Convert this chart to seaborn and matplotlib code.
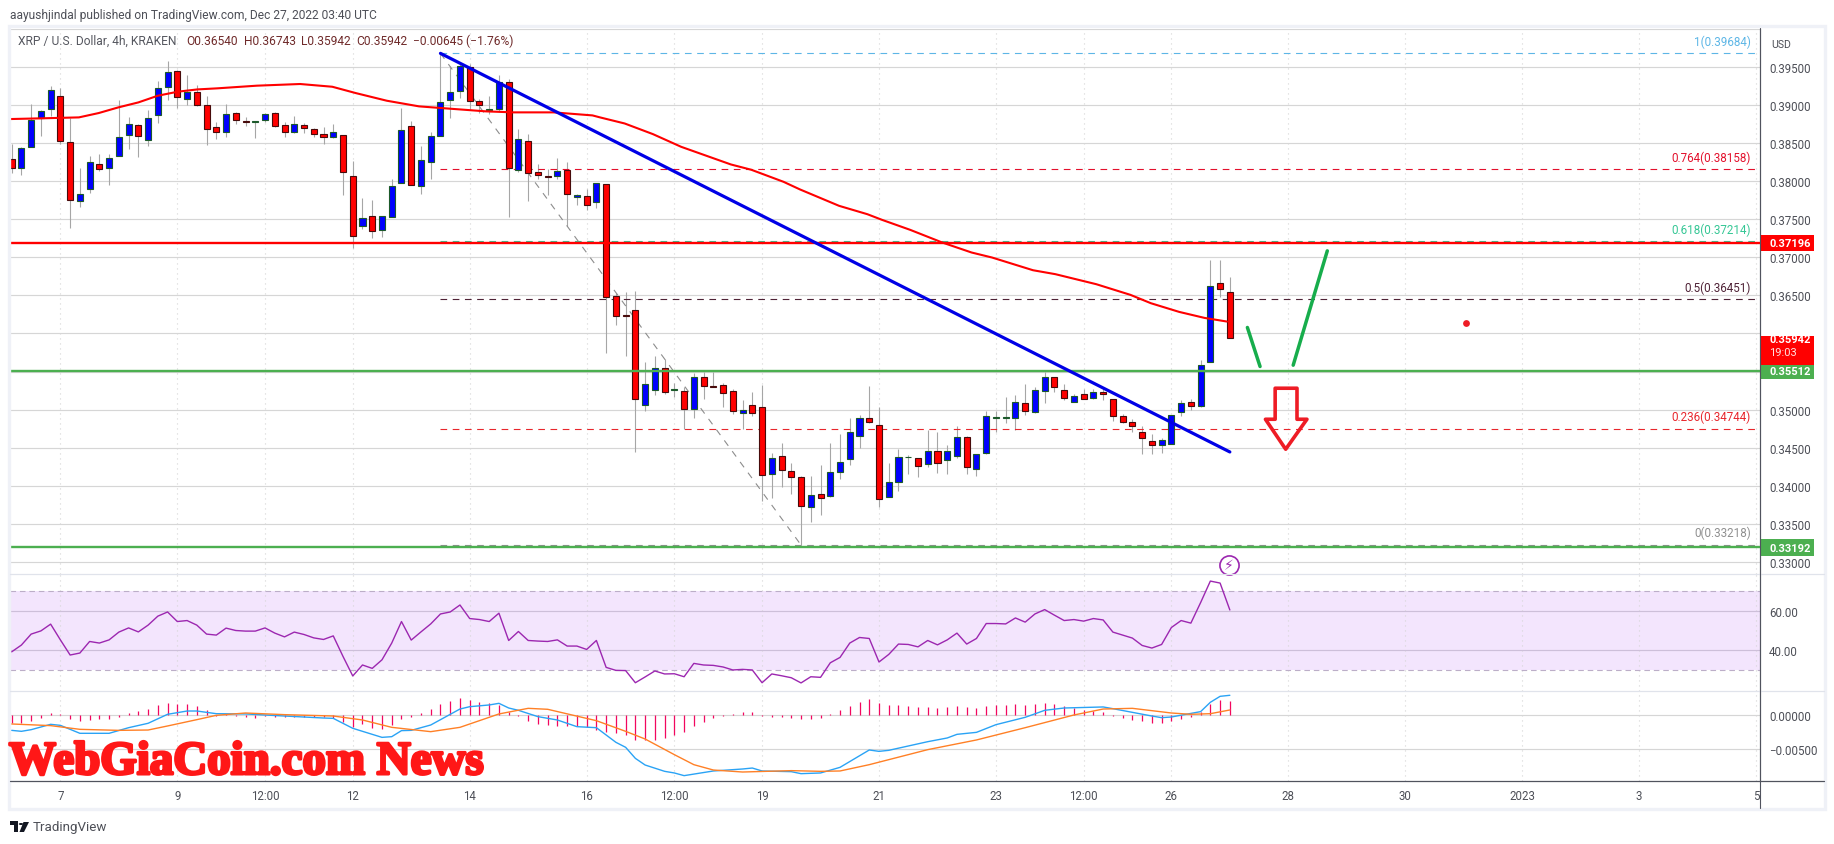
import matplotlib
matplotlib.use("Agg")
import matplotlib.pyplot as plt
import matplotlib.patheffects as pe
from matplotlib.lines import Line2D
from matplotlib.patches import Rectangle, Polygon, Circle
from matplotlib.transforms import blended_transform_factory
import numpy as np
import pandas as pd
import seaborn as sns

W, H = 1834, 845

# candles, one every 4h, index 0 = Dec 7 00:00
first_bar = -5
opens = [.38289,.3818,.38447,.38829,.38947,.39118,.38513,.37737,.37903,.38224,.38171,.38329,.38605,.38737,.38539,.38868,
         .39237,.39447,.39079,.39171,.39009,.3871,.38645,.38895,.38789,.38776,.38802,.38895,.38737,.38645,.38737,.38684,
         .38618,.38579,.38605,.38074,.37408,.37548,.37355,.37526,.37974,.38732,.37934,.3825,.38592,.39066,.39184,.395,
         .39052,.38943,.38947,.39311,.38153,.38526,.38123,.38066,.38066,.38145,.37789,.37811,.37723,.3796,.36487,.36241,
         .36303,.35062,.35263,.3554,.35259,.3525,.35013,.35434,.35307,.35316,.3525,.34948,.35053,.35027,.34158,.34395,
         .34198,.34119,.33724,.33895,.33869,.34184,.34355,.34658,.34882,.34803,.33856,.34053,.34373,.34356,.3429,.34461,
         .34342,.34395,.34645,.34224,.34434,.34895,.34882,.34895,.35092,.34961,.3525,.35434,.35263,.35105,.35198,.35158,
         .35224,.35132,.34921,.34842,.34711,.34592,.3454,.34553,.3497,.35105,.3504,.35626,.36658,.3654]
highs = [.38491,.3845,.39013,.38943,.3925,.39224,.38829,.38175,.38329,.38364,.38364,.3907,.38842,.38754,.38938,.39324,
         .39583,.39469,.39399,.39267,.39127,.38776,.39017,.38908,.38842,.38798,.38899,.38908,.38785,.38864,.38767,.38697,
         .38715,.3875,.38605,.38263,.37781,.37754,.37539,.38031,.38965,.38789,.38469,.38645,.39688,.39522,.39566,.39544,
         .39083,.39127,.39399,.39346,.38688,.38623,.38228,.38162,.38302,.3825,.37833,.37899,.37978,.37965,.36539,.3655,
         .3656,.35619,.35698,.35663,.35355,.3529,.35478,.35496,.35487,.35355,.35268,.35123,.35237,.3532,.34434,.34566,
         .34294,.34127,.34127,.34268,.34566,.34684,.34895,.34926,.35303,.35027,.34303,.34487,.34399,.34369,.34733,.34698,
         .34531,.34785,.34654,.34421,.34983,.34983,.35163,.35189,.35334,.3529,.35487,.35434,.35334,.35202,.35268,.35268,
         .35277,.35145,.34939,.34873,.34785,.34684,.34632,.34934,.35123,.35145,.35649,.36968,.36968,.36743]
lows = [.38105,.38088,.38447,.38601,.38864,.38491,.3739,.37667,.37846,.38136,.37956,.38329,.38425,.38324,.38469,.38767,
        .39074,.3896,.39004,.38987,.38482,.38557,.38588,.38754,.38732,.38566,.38776,.38715,.38579,.38636,.38636,.38579,
        .38491,.38566,.37824,.37118,.37373,.3725,.37272,.37526,.37974,.37947,.37838,.38031,.38592,.38838,.39092,.38952,
        .38895,.38886,.3893,.37535,.38118,.37737,.38031,.37824,.38031,.37417,.37688,.37627,.37649,.35746,.36114,.35698,
        .34443,.34983,.35189,.35202,.35171,.34741,.34882,.35136,.3529,.35031,.34939,.34741,.34917,.33803,.33834,.33987,
        .33886,.33215,.33522,.3361,.33856,.34084,.34272,.34491,.34829,.33724,.33856,.3393,.34149,.34119,.3425,.34162,
        .34149,.34364,.34149,.34127,.34421,.34706,.3482,.34733,.34926,.34952,.35084,.35224,.35127,.35101,.35136,.35136,
        .35123,.34851,.34829,.34711,.34417,.34417,.3443,.34553,.34921,.34996,.35035,.35622,.36474,.35942]
closes = [.3818,.38434,.38802,.3892,.39197,.38526,.3775,.37829,.38259,.38167,.38311,.38579,.38759,.38592,.38838,.39232,
          .39434,.39105,.39171,.39009,.38684,.38645,.38881,.38802,.38783,.38789,.38881,.38732,.38645,.3875,.38697,.38618,
          .38579,.38645,.38118,.37276,.37513,.37342,.37539,.37943,.38671,.37947,.38276,.38592,.39048,.39171,.39522,.39052,
          .39009,.38952,.39311,.38171,.38561,.38105,.38079,.38061,.38131,.37829,.37824,.37684,.37974,.36478,.36224,.36224,
          .35145,.35338,.3554,.35237,.35268,.35013,.35434,.35303,.35298,.35211,.34987,.35,.34956,.34145,.34369,.34211,
          .34119,.33737,.33882,.33842,.34184,.34316,.34711,.34895,.34838,.33829,.34053,.34382,.34382,.34263,.34461,.34303,
          .34448,.34645,.3425,.34421,.34921,.34908,.34908,.35105,.34987,.35263,.35434,.3529,.35154,.35184,.35145,.35224,
          .35198,.34921,.34842,.34777,.34619,.3454,.34605,.34934,.35092,.3504,.35579,.36618,.36579,.35942]

# 100 SMA
sma_bar = [-5.2,-2.15,1.9,3.93,5.96,8,10,12.05,14.07,16.1,20.16,24.6,27.9,30.3,33.5,36.8,39.6,43.7,46.5,50.6,54.6,55.4,57.9,
           60.8,63.7,68.8,70.9,74.2,75.9,79.9,82.8,84.3,87.2,90.5,93.5,95.6,99.8,102.1,106.3,109.8,111.9,114.8,117.4,119.7]
sma_val = [.3882,.38829,.38842,.38899,.38974,.39039,.39127,.3918,.3921,.39224,.39259,.39281,.39245,.39162,.39061,.38987,.3896,
           .38921,.38908,.38908,.38868,.38841,.38762,.38622,.38455,.38223,.38153,.37995,.37894,.37679,.37569,.37495,.37363,
           .37196,.37065,.36999,.36832,.3678,.36648,.36508,.36398,.36284,.36205,.36157]

rsi_val = [39.3,42.7,48.2,49.8,53.2,45.3,37.7,38.7,44.5,43.7,45.3,49.2,51.3,49.3,52.7,57.2,59.3,54.5,55,52.7,48.2,47.7,51.2,50,
           49.7,49.7,51.3,48.7,46.8,49.2,48,46.3,45.5,47.3,37,27.2,32.7,31,35.3,43.7,54.5,45.2,49.3,53.3,58.3,59.3,62.8,56,55.5,
           54.5,58.7,45,49.5,45,44.7,44.5,45.3,42.2,42.2,40.5,45,31.5,30,29.9,23.8,
           26.7,29.7,28.2,28.3,26.8,33.5,32.7,32.5,31.7,30.2,30.5,30.2,23.8,28.2,27.3,26.3,23.7,26.8,26.5,33.8,36.5,43.7,46.5,46,
           34.2,38,43.2,43,41.8,45,42.8,45.3,48.7,43.2,46,53.5,53.5,53.3,56.3,54.2,58.3,60.5,57.7,55,55.5,54.7,56,55.3,49.2,47.7,
           46.2,42.5,41.2,43,51.5,55,53.7,64,74.8,73.8,60.3]

hist_val = [-.00117,-.00117,-.00087,-.00039,.00029,.0001,-.00053,-.00087,-.00068,-.00063,-.00053,-.00024,.00024,.00053,.00087,
            .00146,.0017,.0016,.0016,.00131,.00073,-.0001,.0001,-.00019,-.00024,-.00039,-.0001,-.00024,-.00024,-.00034,-.00034,
            -.00034,-.00029,-.00044,-.00107,-.0018,-.00136,-.00194,-.00204,-.00146,-.00058,-.00024,.00029,.00087,.0016,.00204,
            .00243,.00219,.00185,.00175,.00146,.00049,-.0001,-.00087,-.00131,-.00146,-.00156,-.00156,-.00165,-.0018,-.00214,
            -.00243,-.00262,-.00287,-.0036,-.00364,-.00364,-.00335,-.00287,-.00243,-.00156,-.00097,-.00044,-.00015,.00019,.00049,
            .00049,-.0001,-.00024,-.00024,-.00039,-.00053,-.00053,-.00039,.00019,.00078,.00136,.00194,.00233,.0018,.00151,.00146,
            .00131,.00117,.00117,.00102,.00117,.00131,.00117,.00102,.00131,.00146,.00146,.0016,.00151,.0016,.00175,.0016,.00131,
            .00102,.00073,.00053,.00044,-.0001,-.00039,-.00073,-.00087,-.00112,-.00117,-.00087,-.00058,-.00029,.00044,.0016,
            .00214,.00204]

macd_bar = [-5,-4,-3,-1,0,2,5,7,9,11,13,14,16,19,23,27,28,30,33,34,35,36,38,41,42,44,45,46,47,49,51,53,55,57,58,59,60,62,63,64,
            67,70,71,72,75,76,78,80,83,84,85,89,91,92,94,96,99,101,103,107,108,112,113,114,117,118,119,120]
macd_val = [-.00224,-.00238,-.00214,-.00136,-.00151,-.00267,-.00267,-.00185,-.00121,.0001,.00058,.00058,.00019,.00015,-.00015,
            -.00044,-.00049,-.00194,-.00326,-.00316,-.00228,-.00224,-.00146,.00087,.00121,.00146,.0017,.00102,.00068,-.00024,
            -.00073,-.0017,-.00185,-.00398,-.00471,-.00632,-.00729,-.00821,-.00845,-.00884,-.00816,-.00787,-.00773,-.00816,
            -.00826,-.00855,-.00845,-.00763,-.0051,-.0053,-.00515,-.00389,-.00335,-.00282,-.00253,-.00141,-.00034,.00068,.00102,
            .00117,.00092,-.00015,-.00039,-.00029,.00049,.00185,.00272,.00287]
signal_bar = [-5,-1,2,6,9,11,14,16,19,23,28,31,34,38,41,45,48,50,55,58,60,63,65,67,70,75,78,80,83,89,94,99,104,107,110,114,116,118,120]
signal_val = [-.00131,-.00155,-.00209,-.00224,-.00219,-.0016,-.00068,-.00005,.00029,.00005,-.00015,-.00073,-.0018,-.00243,-.0018,
              .00015,.00097,.00083,-.00083,-.00238,-.0035,-.00578,-.00724,-.00802,-.00831,-.00811,-.00821,-.00816,-.00724,
              -.00505,-.00364,-.00185,0,.00087,.00097,.00029,.0001,.00019,.00073]

# x axis
date_bars = [0,12,21,30,42,54,63,72,84,96,105,114,126,138,150,162,174]
date_labels = ["7","9","12:00","12","14","16","12:00","19","21","23","12:00","26","28","30","2023","3","5"]

price_ticks = [.33,.335,.34,.345,.35,.355,.36,.365,.37,.375,.38,.385,.39,.395,.40]
price_labels = ["0.33000","0.33500","0.34000","0.34500","0.35000","","","0.36500","0.37000","0.37500","0.38000","0.38500","0.39000","0.39500",""]

# fib retracement
fib_levels = ["1","0.764","0.618","0.5","0.236","0"]
fib_prices = [.39684,.38158,.37214,.36451,.34744,.33218]
fib_colors = ["#5db6e6","#e3102c","#35c795","#4f2236","#e8262c","#8f8f8f"]

# hand drawn stuff on the chart
trend_bar, trend_val = [39,120], [.39684,.34442]
fib_diag_bar, fib_diag_val = [39,76], [.39684,.33218]
green1_bar, green1_val = [121.8,123.1], [.36079,.35566]
green2_bar, green2_val = [126.5,130.0], [.35583,.37087]
arrow_bar = [124.65,126.89,126.89,127.91,125.73,123.65,124.65]
arrow_val = [.3528,.3528,.34872,.34872,.34478,.34872,.34872]
dot_bar, dot_val = 144.2, .36139

sns.set_theme(style="white")
plt.rcParams["font.family"] = ["Roboto", "DejaVu Sans"]
text_gray = "#4d4f57"
axis_dark = "#50535e"
grid_col = "#d6d6d6"

fig = plt.figure(figsize=(W / 100, H / 100), dpi=100, facecolor="white")


def pane(y_top, y_bot):
    return fig.add_axes([10 / W, 1 - y_bot / H, 1750 / W, (y_bot - y_top) / H])


ax = pane(29.5, 575.3)
ax_rsi = pane(575.3, 691.7)
ax_macd = pane(691.7, 782)

for a in (ax, ax_rsi, ax_macd):
    a.set_facecolor("none")
    a.set_xlim(-5.17, 174.4)
    a.yaxis.tick_right()
    a.tick_params(length=0, labelsize=8.3, labelcolor=text_gray, pad=6.5)
    a.set_xticks(date_bars)
    a.grid(True, axis="x", color=grid_col, linestyle=(0, (1, 3.5)), linewidth=0.8)
    a.grid(True, axis="y", color=grid_col, linestyle="-", linewidth=0.85)
    a.set_axisbelow(True)
    for side in ("left", "top", "bottom"):
        a.spines[side].set_visible(False)
    a.spines["right"].set_color(axis_dark)
    a.spines["right"].set_linewidth(0.8)
    a.set_xlabel("")
    a.set_ylabel("")

df = pd.DataFrame({"open": opens, "high": highs, "low": lows, "close": closes})
df["bar"] = np.arange(len(df)) + first_bar
up = df["close"] >= df["open"]

# price pane
ax.set_ylim(.32833, .40011)
ax.set_yticks(price_ticks)
ax.set_yticklabels(price_labels)
ax.tick_params(labelbottom=False)

ax.vlines(df["bar"], df["low"], df["high"], color="#a6a6a6", linewidth=0.8, zorder=2)
ax.bar(df["bar"][up], (df["close"] - df["open"])[up], bottom=df["open"][up], width=0.62,
       color="#0000ff", edgecolor="#1c5a2a", linewidth=0.8, zorder=3)
ax.bar(df["bar"][~up], (df["open"] - df["close"])[~up], bottom=df["close"][~up], width=0.62,
       color="#ff0000", edgecolor="#470b0b", linewidth=0.8, zorder=3)

for price, col in zip(fib_prices, fib_colors):
    ax.plot([39, 174.4], [price, price], color=col, linewidth=0.8, linestyle=(0, (6, 5)), zorder=2.5)
ax.plot(fib_diag_bar, fib_diag_val, color="#8c8c8c", linewidth=0.8, linestyle=(0, (6, 6)), zorder=2.5)

ax.axhline(.37196, color="#ff0000", linewidth=1.7, zorder=4)
ax.axhline(.35512, color="#4caf50", linewidth=1.7, zorder=4)
ax.axhline(.33192, color="#4caf50", linewidth=1.7, zorder=4)

sns.lineplot(x=sma_bar, y=sma_val, ax=ax, color="#ff0000", linewidth=1.5, estimator=None, sort=False, zorder=5)
sns.lineplot(x=trend_bar, y=trend_val, ax=ax, color="#0000e6", linewidth=2.3, estimator=None, sort=False, zorder=6)
sns.lineplot(x=green1_bar, y=green1_val, ax=ax, color="#17ad4c", linewidth=2.5, estimator=None, sort=False, zorder=6,
             solid_capstyle="round")
sns.lineplot(x=green2_bar, y=green2_val, ax=ax, color="#17ad4c", linewidth=2.5, estimator=None, sort=False, zorder=6,
             solid_capstyle="round")
ax.add_patch(Polygon(np.column_stack([arrow_bar, arrow_val]), closed=True, fill=False, edgecolor="#ee1c25",
                     linewidth=2.6, joinstyle="round", zorder=6))
ax.scatter([dot_bar], [dot_val], s=24, color="#ee1c25", linewidth=0, zorder=6)
ax.set_xlabel("")
ax.set_ylabel("")

for lvl, price, col in zip(fib_levels, fib_prices, fib_colors):
    ax.annotate(f"{lvl}({price:.5f})", xy=(1 - 9 / 1750, price), xycoords=ax.get_yaxis_transform(),
                xytext=(0, 4), textcoords="offset points", ha="right", va="bottom", fontsize=8.4, color=col)

# lightning badge
ax.scatter([119.9], [.3295], s=190, facecolor="white", edgecolor="#9c27b0", linewidth=1.2, zorder=7, clip_on=False)
ax.text(119.9, .3295, "\u26a1", fontsize=10, color="#9c27b0", ha="center", va="center", zorder=8,
        family="DejaVu Sans")

# price tags on the axis
tags = [(.37196, "0.37196", "#ff0000"), (.35512, "0.35512", "#4caf50"), (.33192, "0.33192", "#4caf50")]
trans = blended_transform_factory(ax.transAxes, ax.transData)
for price, label, col in tags:
    ax.add_patch(Rectangle((1, price - 8.5 / 7600), 54 / 1750, 16.5 / 7600, transform=trans, clip_on=False,
                           facecolor=col, edgecolor="none", zorder=8))
    ax.text(1 + 9 / 1750, price - 0.8 / 7600, label, transform=trans, color="white", fontsize=8, fontweight="bold",
            va="center", ha="left", zorder=9)
ax.add_patch(Rectangle((1, .35581), 54 / 1750, 29 / 7600, transform=trans, clip_on=False,
                       facecolor="#ff0000", edgecolor="none", zorder=8))
ax.text(1 + 9 / 1750, .35942 - 1.3 / 7600, "0.35942", transform=trans, color="white", fontsize=8, fontweight="bold",
        va="center", ha="left", zorder=9)
ax.text(1 + 9 / 1750, .35942 - 14.3 / 7600, "19:03", transform=trans, color="#ffe0e0", fontsize=8, va="center",
        ha="left", zorder=9)

# RSI pane
ax_rsi.set_ylim(19.8, 78.2)
ax_rsi.set_yticks([40, 60])
ax_rsi.set_yticklabels(["40.00", "60.00"])
ax_rsi.tick_params(labelbottom=False)
ax_rsi.grid(True, axis="y", color="#cdbfd9", linestyle="-", linewidth=0.85)
ax_rsi.axhspan(30, 70, color="#f3e5fd", linewidth=0, zorder=0)
ax_rsi.axhline(70, color="#bcaec8", linewidth=0.8, linestyle=(0, (5, 3.5)))
ax_rsi.axhline(30, color="#bcaec8", linewidth=0.8, linestyle=(0, (5, 3.5)))
sns.lineplot(x=df["bar"].to_numpy(), y=rsi_val, ax=ax_rsi, color="#9c27b0", linewidth=1.0, estimator=None, sort=False,
             zorder=4)
ax_rsi.set_xlabel("")
ax_rsi.set_ylabel("")

# MACD pane
ax_macd.set_ylim(-.00962, .00354)
ax_macd.set_yticks([-.005, 0])
ax_macd.set_yticklabels(["\u22120.00500", "0.00000"])
ax_macd.vlines(df["bar"], 0, hist_val, color="#f2075f", linewidth=0.9, zorder=2)
sns.lineplot(x=macd_bar, y=macd_val, ax=ax_macd, color="#2aa3f5", linewidth=1.0, estimator=None, sort=False, zorder=3)
sns.lineplot(x=signal_bar, y=signal_val, ax=ax_macd, color="#ff8026", linewidth=1.0, estimator=None, sort=False, zorder=4)
ax_macd.set_xlabel("")
ax_macd.set_ylabel("")
ax_macd.set_xticklabels(date_labels)
ax_macd.tick_params(axis="x", pad=5.5, labelsize=8.3)

# frame and pane dividers, in pixels


def fig_line(xs, ys, col, lw=1.0):
    fig.add_artist(Line2D([x / W for x in xs], [1 - y / H for y in ys], color=col, linewidth=lw,
                          transform=fig.transFigure))


fig.add_artist(Rectangle((9 / W, 1 - 810 / H), 1816 / W, 783 / H, transform=fig.transFigure, fill=False,
                         edgecolor="#eff1f7", linewidth=2.4))
fig_line([10, 1824], [575.3, 575.3], "#e0e3eb", 0.9)
fig_line([10, 1824], [691.7, 691.7], "#e0e3eb", 0.9)
fig_line([10, 1824], [782, 782], axis_dark, 0.9)
fig_line([1760, 1760], [29, 809], axis_dark, 0.8)

# headers
fig.text(10 / W, 1 - 15 / H, "aayushjindal published on TradingView.com, Dec 27, 2022 03:40 UTC", fontsize=8.65,
         color=text_gray, va="center", ha="left")
fig.text(18 / W, 1 - 41.5 / H, "XRP / U.S. Dollar, 4h, KRAKEN", fontsize=8.65, color="#55575f", va="center", ha="left")
for xp, txt in [(186, "O0.36540"), (243.5, "H0.36743"), (301, "L0.35942"), (356.5, "C0.35942"),
                (413, "\u22120.00645 (\u22121.76%)")]:
    fig.text(xp / W, 1 - 41.5 / H, txt, fontsize=8.65, color="#6f2a2a", va="center", ha="left")
fig.text(1771 / W, 1 - 45 / H, "USD", fontsize=7.6, color=text_gray, va="center", ha="left")

# watermark
fig.text(9 / W, 1 - 775 / H, "WebGiaCoin.com News", fontsize=33.8, family="Liberation Serif", fontweight="bold",
         color="#ff1717", va="baseline", ha="left", zorder=20,
         path_effects=[pe.withStroke(linewidth=2.2, foreground="#ff1717")])

# TradingView mark
logo = "#131722"
fig.add_artist(Rectangle((10 / W, 1 - 826 / H), 8 / W, 4 / H, transform=fig.transFigure, color=logo, linewidth=0))
fig.add_artist(Rectangle((14 / W, 1 - 833 / H), 4 / W, 10 / H, transform=fig.transFigure, color=logo, linewidth=0))
fig.add_artist(Polygon([(23.5 / W, 1 - 823 / H), (29 / W, 1 - 823 / H), (24 / W, 1 - 833 / H), (19.5 / W, 1 - 833 / H)],
                       transform=fig.transFigure, color=logo, linewidth=0))
fig.add_artist(Circle((21 / W, 1 - 825 / H), 0.0012, transform=fig.transFigure, color=logo, linewidth=0))
fig.text(33 / W, 1 - 827.5 / H, "TradingView", fontsize=9.6, color=text_gray, va="center", ha="left")

fig.savefig("out.png", dpi=100, facecolor="white")
